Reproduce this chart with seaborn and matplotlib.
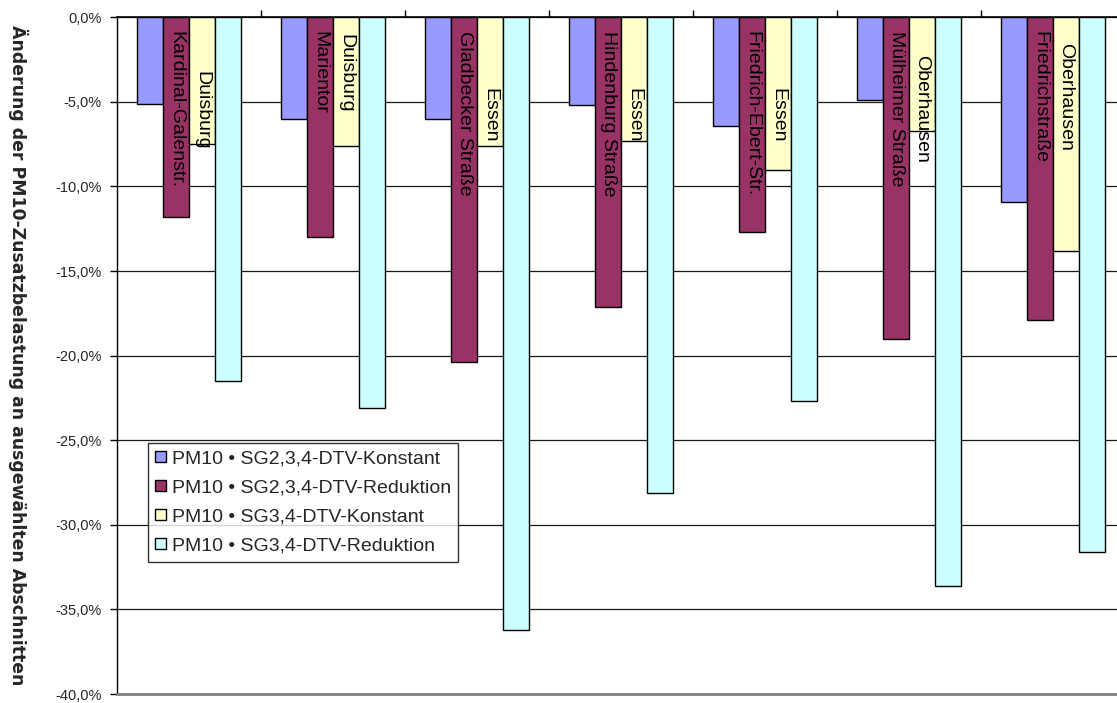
import matplotlib
matplotlib.use("Agg")
import matplotlib.pyplot as plt
from matplotlib.ticker import FuncFormatter
import pandas as pd
import seaborn as sns

# --- data -------------------------------------------------------------
cities = ["Duisburg", "Duisburg", "Essen", "Essen", "Essen", "Oberhausen", "Oberhausen"]
streets = ["Kardinal-Galenstr.", "Marientor", "Gladbecker Straße", "Hindenburg Straße",
           "Friedrich-Ebert-Str.", "Mülheimer Straße", "Friedrichstraße"]
scenarios = ["PM10 • SG2,3,4-DTV-Konstant", "PM10 • SG2,3,4-DTV-Reduktion",
             "PM10 • SG3,4-DTV-Konstant", "PM10 • SG3,4-DTV-Reduktion"]

# change in percent
sg234_konstant = [-5.1, -6.0, -6.0, -5.2, -6.4, -4.9, -10.9]
sg234_reduktion = [-11.8, -13.0, -20.4, -17.1, -12.7, -19.0, -17.9]
sg34_konstant = [-7.5, -7.6, -7.6, -7.3, -9.0, -6.7, -13.8]
sg34_reduktion = [-21.5, -23.1, -36.2, -28.1, -22.7, -33.6, -31.6]

y_ticks = [0, -5, -10, -15, -20, -25, -30, -35, -40]
y_label = "Änderung der PM10-Zusatzbelastung an ausgewählten Abschnitten"

# --- styling ------------------------------------------------------------
colors = ["#9999FF", "#993366", "#FFFFCC", "#CCFFFF"]
# where the rotated street / city names start inside their bars (percent below 0)
street_label_start = [0.8, 0.8, 0.8, 0.8, 0.8, 0.8, 0.8]
city_label_start = [3.2, 1.0, 4.2, 4.2, 4.2, 2.2, 1.5]

sns.set_style("white")
plt.rcParams["font.family"] = ["Liberation Sans", "DejaVu Sans"]

sections = [f"{c} {s}" for c, s in zip(cities, streets)]
series = [sg234_konstant, sg234_reduktion, sg34_konstant, sg34_reduktion]
df = pd.DataFrame(
    [(sec, scen, v) for scen, vals in zip(scenarios, series) for sec, v in zip(sections, vals)],
    columns=["Abschnitt", "Szenario", "Änderung"],
)

W, H = 1117, 703
fig = plt.figure(figsize=(W / 100, H / 100), dpi=100)
ax = fig.add_axes([117 / W, 9 / H, 1008 / W, 676.7 / H])

sns.barplot(
    data=df, x="Abschnitt", y="Änderung", hue="Szenario",
    order=sections, hue_order=scenarios,
    palette=dict(zip(scenarios, colors)), saturation=1,
    width=0.72, gap=0, edgecolor="black", linewidth=1.0,
    errorbar=None, ax=ax,
)

ax.set_xlim(-0.5, len(sections) - 0.5)
ax.set_ylim(-40, 0)

# horizontal grid
ax.set_axisbelow(True)
ax.yaxis.grid(True, color="#1a1a1a", linewidth=0.9)
ax.xaxis.grid(False)

# y axis
ax.set_yticks(y_ticks)
ax.yaxis.set_major_formatter(
    FuncFormatter(lambda v, _: f"{v:.1f}%".replace(".", ","))
)
ax.tick_params(axis="y", left=True, direction="out", length=5, width=1,
               color="black", pad=6, labelsize=10.5)

ax.set_ylabel(y_label, rotation=270, fontsize=12.4, fontweight="bold",
              family="DejaVu Sans", va="center")
ax.yaxis.set_label_coords(-0.098, 0.5)

# x axis: category dividers on the zero line, no labels
ax.xaxis.tick_top()
ax.set_xticks([i + 0.5 for i in range(len(sections) - 1)])
ax.set_xticklabels([])
ax.tick_params(axis="x", top=True, bottom=False, direction="out",
               length=5, width=1, color="black")
ax.set_xlabel("")

ax.spines["right"].set_visible(False)
ax.spines["left"].set_color("black")
ax.spines["left"].set_linewidth(1)
ax.spines["top"].set_color("black")
ax.spines["top"].set_linewidth(1.2)
ax.spines["bottom"].set_color("#808080")
ax.spines["bottom"].set_linewidth(2)

# street names on the second bar, city names on the third
street_bars = ax.containers[1]
city_bars = ax.containers[2]
for i in range(len(sections)):
    p = street_bars[i]
    ax.text(p.get_x() + p.get_width() / 2, -street_label_start[i], streets[i],
            rotation=270, ha="center", va="top", fontsize=14, color="black")
    p = city_bars[i]
    ax.text(p.get_x() + p.get_width() / 2, -city_label_start[i], cities[i],
            rotation=270, ha="center", va="top", fontsize=14, color="black")

# legend
handles, labels = ax.get_legend_handles_labels()
for h in handles:
    h.set_edgecolor("black")
    h.set_linewidth(1)
leg = ax.legend(
    handles, labels, loc="upper left", bbox_to_anchor=(0.0308, 0.371),
    borderaxespad=0, frameon=True, fancybox=False, fontsize=14,
    handlelength=0.55, handleheight=0.55, handletextpad=0.3,
    labelspacing=0.62, borderpad=0.38,
)
leg.get_frame().set_edgecolor("black")
leg.get_frame().set_linewidth(1)

fig.savefig("out.png", dpi=100)
